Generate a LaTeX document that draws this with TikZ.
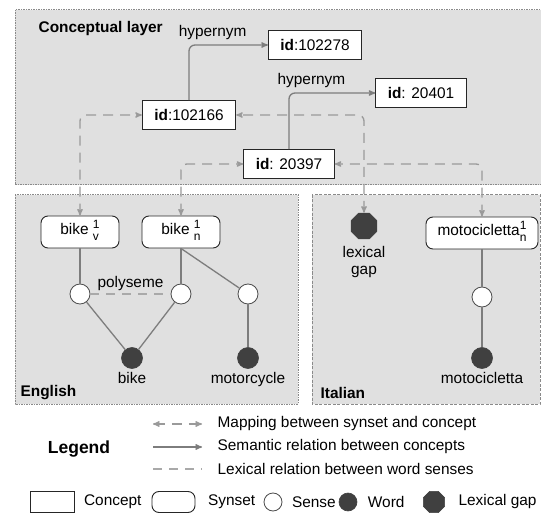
\documentclass[tikz,border=0pt]{standalone}
\usepackage{fontspec}
\setmainfont{Liberation Sans}
\usetikzlibrary{arrows}
\usetikzlibrary{positioning}
\usetikzlibrary{shapes.geometric}

\definecolor{bgfill}{HTML}{E0E0E0}
\definecolor{frameg}{HTML}{8A8A8A}
\definecolor{lineg}{HTML}{7D7D7D}
\definecolor{dashg}{HTML}{9A9A9A}
\definecolor{worddark}{HTML}{404040}

\newcommand{\synlabel}[3]{#1{\fontsize{12}{12}\selectfont\begin{tabular}[c]{@{}l@{}}#2\\#3\end{tabular}}}

\begin{document}
\begin{tikzpicture}[x=1pt,y=-1pt,>=stealth',semithick,
					font=\fontsize{15.4}{17}\selectfont]
					\tikzstyle{langbox}=[draw=frameg,fill=bgfill,line width=1pt,dash pattern=on 1.5pt off 1pt]
					\tikzstyle{concept}=[draw=black!85,fill=white,line width=0.9pt,inner xsep=12pt,minimum height=29pt]
					\tikzstyle{synset}=[draw=black!85,fill=white,line width=0.9pt,rounded corners=7pt,minimum width=78pt,minimum height=32pt,inner ysep=1pt]
					\tikzstyle{sense}=[circle,draw=black!70,fill=white,line width=0.8pt,minimum size=20pt,inner sep=0pt]
					\tikzstyle{word}=[circle,draw=worddark,fill=worddark,minimum size=21pt,inner sep=0pt]
					\tikzstyle{lexgap}=[regular polygon,regular polygon sides=8,draw=worddark,fill=worddark,minimum size=28pt,inner sep=0pt]
					\tikzstyle{rel}=[draw=lineg,line width=1.3pt]
					\tikzstyle{sem}=[rel,->,rounded corners=6pt]
					\tikzstyle{map}=[draw=dashg,line width=1.3pt,<->,dash pattern=on 10pt off 7pt,rounded corners=6pt]
					\tikzstyle{lex}=[draw=dashg!85,line width=1.6pt,dash pattern=on 9pt off 7pt]
					\tikzstyle{title}=[font=\fontsize{15.4}{17}\selectfont\bfseries,anchor=west]
					
					\useasboundingbox (0,0) rectangle (541,513);
					
					% layers
					\draw[langbox] (15,10) rectangle (545,185);
					\draw[langbox] (15,195) rectangle (298,404);
					\draw[langbox,dash pattern=on 3pt off 1.5pt] (312,195) rectangle (540,404);
					
					\node[title] (lconc) at (35,29)  {Conceptual layer};
					\node[title] (leng)  at (17,393) {English};
					\node[title] (lita)  at (317,393) {Italian};
					
					% concepts
					\node[concept] (c102278) at (315,45)  {\textbf{id}:102278};
					\node[concept] (c20401)  at (421,93)  {\textbf{id}: 20401};
					\node[concept] (c102166) at (189,115) {\textbf{id}:102166};
					\node[concept] (c20397)  at (289,164) {\textbf{id}: 20397};
					
					% synsets, senses and words
					\node[synset] (bikev) at (80,232)  {\synlabel{bike }{1}{v}};
					\node[synset] (biken) at (181,232) {\synlabel{bike }{1}{n}};
					\node[synset,minimum width=112pt] (motoit) at (482,233) {\synlabel{motocicletta}{1}{n}};
					
					\node[sense] (sv)  at (80,294)  {};
					\node[sense] (sn)  at (181,294) {};
					\node[sense] (sm)  at (248,294) {};
					\node[sense] (smi) at (482,297) {};
					
					\node[word] (wbike)  at (132,358) [label=below:bike]         {};
					\node[word] (wmotor) at (248,358) [label=below:motorcycle]   {};
					\node[word] (wmoto)  at (482,358) [label=below:motocicletta] {};
					\node[lexgap] (lgap) at (364,226) [label={[align=center,label distance=3pt]below:lexical\\gap}] {};
					
					\path (bikev) edge[rel] (sv)
					(biken) edge[rel] (sn)
					(biken.south) edge[rel] (sm)
					(sv) edge[rel] (wbike)
					(sn) edge[rel] (wbike)
					(sm) edge[rel] (wmotor)
					(motoit) edge[rel] (smi)
					(smi) edge[rel] (wmoto);
					\draw[lex] (sv) -- node[midway,yshift=10pt] {polyseme} (sn);
					
					\draw[sem] (c102166) |- node[pos=0.65,above=1pt] {hypernym} (c102278);
					\draw[sem] (c20397) |- node[pos=0.63,above=1pt] {hypernym} (c20401);
					
					\draw[map] (bikev) |- (c102166);
					\draw[map] (biken) |- (c20397);
					\draw[map] (lgap) |- (c102166);
					\draw[map] (motoit) |- (c20397);
					
					% legend
					\node[font=\fontsize{17.5}{19}\selectfont\bfseries] (legend) at (79,449) {Legend};
					\coordinate (m1) at (153,424); \coordinate (m2) at (202,424);
					\coordinate (s1) at (153,447); \coordinate (s2) at (202,447);
					\coordinate (x1) at (153,469); \coordinate (x2) at (202,469);
					\draw[map] (m1) -- (m2);
					\draw[sem] (s1) -- (s2);
					\draw[lex] (x1) -- (x2);
					\node[right=12pt of m2] (tmap) {Mapping between synset and concept};
					\node[right=12pt of s2] (tsem) {Semantic relation between concepts};
					\node[right=12pt of x2] (tlex) {Lexical relation between word senses};
					
					\node[concept,inner sep=0pt,minimum width=44pt,minimum height=21pt] (kconcept) at (52,502) {};
					\node[right=6pt of kconcept] (tconcept) {Concept};
					\node[synset,minimum width=43pt,minimum height=21pt] (ksynset) at (173.5,502) {};
					\node[right=9pt of ksynset] (tsynset) {Synset};
					\node[sense,minimum size=18pt] (ksense) at (273,502) {};
					\node[right=6pt of ksense] (tsense) {Sense};
					\node[word,minimum size=18pt] (kword) at (348,502) {};
					\node[right=7pt of kword] (tword) {Word};
					\node[lexgap,minimum size=23pt] (kgap) at (434,502) {};
					\node[right=10pt of kgap] (tgap) {Lexical gap};
					
\end{tikzpicture}
\end{document}
